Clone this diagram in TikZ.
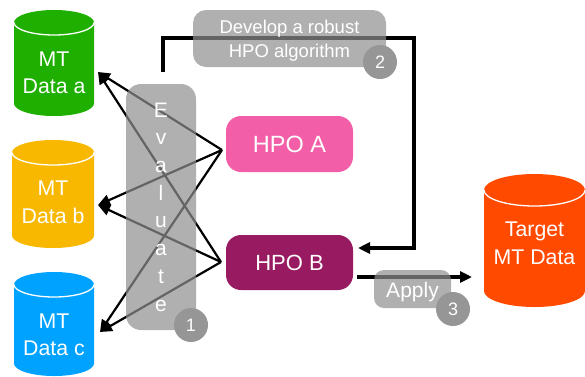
\documentclass[tikz,border=0pt]{standalone}
\usepackage{fontspec}
\setmainfont{Liberation Sans}
\usetikzlibrary{arrows.meta}
\definecolor{cgreen}{HTML}{1EAF00}
\definecolor{cyellow}{HTML}{F9B800}
\definecolor{cblue}{HTML}{00A2FF}
\definecolor{corange}{HTML}{FF4A00}
\definecolor{cpink}{HTML}{F25FA8}
\definecolor{cplum}{HTML}{981A60}
\definecolor{boxgray}{RGB}{143,143,143}
\definecolor{dotgray}{RGB}{150,150,150}
% #1 name, #2 left, #3 right, #4 top, #5 bottom, #6 radius y, #7 colour, #8 text, #9 text centre y
\newcommand{\mtcylinder}[9]{%
  \pgfmathsetmacro{\cxm}{(#2+#3)/2}%
  \pgfmathsetmacro{\crx}{(#3-#2)/2}%
  \pgfmathsetmacro{\ctc}{#4+#6}%
  \pgfmathsetmacro{\cbc}{#5-#6}%
  \fill[#7] (#2,\ctc) arc[start angle=180,end angle=0,x radius=\crx,y radius=-#6]
     -- (#3,\cbc) arc[start angle=0,end angle=-180,x radius=\crx,y radius=-#6] -- cycle;
  \draw[white,line width=1.3pt] (#2,\ctc) arc[start angle=180,end angle=360,x radius=\crx,y radius=-#6];
  \node[cyltext] (#1) at (\cxm,#9) {#8};
}
\tikzset{
  cyltext/.style={text=white,align=center,font=\fontsize{21.3}{27.5}\selectfont,inner sep=0pt},
  hpobox/.style={rounded corners=15pt,minimum width=127pt,minimum height=56pt,inner sep=0pt,text=white},
  overlaybox/.style={fill=boxgray,fill opacity=.7,text opacity=1,text=white,inner sep=0pt,align=center},
  badge/.style={circle,fill=dotgray,text=white,minimum size=34pt,inner sep=0pt,font=\fontsize{18}{20}\selectfont},
  fan/.style={line width=2.2pt,-{Triangle[length=12pt,width=11pt]}},
  route/.style={line width=3.3pt,-{Triangle[length=12pt,width=11pt]}}
}
\begin{document}
\begin{tikzpicture}[x=1pt,y=-1pt]
\useasboundingbox (0,0) rectangle (585,376);
\mtcylinder{dataa}{14}{94}{10}{116}{12.5}{cgreen}{MT\\Data a}{72.7}
\mtcylinder{datab}{12}{94}{140}{248}{12.5}{cyellow}{MT\\Data b}{202.2}
\mtcylinder{datac}{14}{94}{272}{376}{12.5}{cblue}{MT\\Data c}{335}
\mtcylinder{target}{484}{585}{174}{307}{16}{corange}{Target\\MT Data}{243.5}
\node[hpobox,fill=cpink,font=\fontsize{23.5}{26}\selectfont] (hpoa) at (289.5,144) {HPO A};
\node[hpobox,fill=cplum,minimum height=55pt,font=\fontsize{22}{26}\selectfont] (hpob) at (289.5,262.5) {HPO B};
\coordinate (hubA) at (222,150);
\coordinate (hubB) at (221,262);
\coordinate (tipa) at (98,72);
\coordinate (tipb) at (98,205);
\coordinate (tipc) at (100,332);
\foreach \s in {hubA,hubB}\foreach \t in {tipa,tipb,tipc}{\draw[fan] (\s) -- (\t);}
\coordinate (loopstart) at (163,72);
\coordinate (loopend) at (358,248);
\coordinate (applystart) at (357,277);
\coordinate (applyend) at (472,277);
\draw[route] (loopstart) |- (414,38) |- (loopend);
\draw[route] (applystart) -- (applyend);
\node[overlaybox,rounded corners=15pt,minimum width=70pt,minimum height=246pt,font=\fontsize{21}{27.7}\selectfont] (evaluate) at (161,207) {E\\v\\a\\l\\u\\a\\t\\e};
\node[overlaybox,rounded corners=13pt,minimum width=193pt,minimum height=57pt,font=\fontsize{18.5}{24}\selectfont] (develop) at (289.5,38.5) {\rule{0pt}{18pt}Develop a robust\\HPO algorithm};
\node[overlaybox,rounded corners=10pt,minimum width=77pt,minimum height=38pt,font=\fontsize{21}{26}\selectfont] (apply) at (412.5,289) {\rule{0pt}{21pt}Apply};
\node[badge] (one) at (191,325) {1};
\node[badge] (two) at (380,62) {2};
\node[badge] (three) at (453,309) {3};
\end{tikzpicture}
\end{document}
